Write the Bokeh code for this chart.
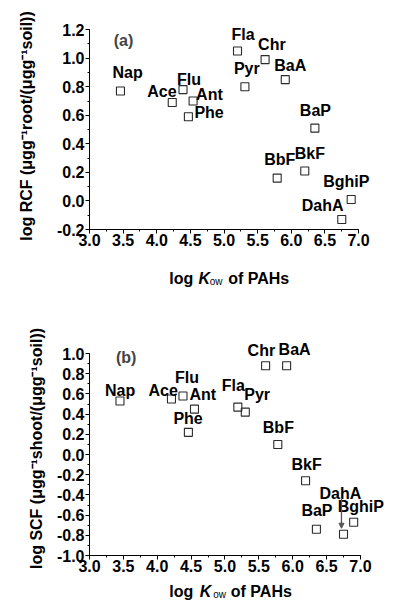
from bokeh.plotting import figure
from bokeh.layouts import column
from bokeh.core.properties import value
from bokeh.models import (ColumnDataSource, LabelSet, Label, Range1d, FixedTicker,
                          PrintfTickFormatter, Arrow, NormalHead)
from bokeh.embed import file_html
from bokeh.resources import INLINE

# ---------------- data ----------------
pahs_a = ["Nap", "Ace", "Flu", "Ant", "Phe", "Fla", "Pyr", "Chr", "BaA",
          "BbF", "BkF", "BaP", "DahA", "BghiP"]
logkow_a = [3.46, 4.23, 4.39, 4.54, 4.47, 5.20, 5.31, 5.61, 5.91,
            5.79, 6.20, 6.35, 6.75, 6.89]
log_rcf = [0.77, 0.69, 0.78, 0.70, 0.59, 1.05, 0.80, 0.99, 0.85,
           0.16, 0.21, 0.51, -0.13, 0.01]

pahs_b = ["Nap", "Ace", "Flu", "Ant", "Phe", "Fla", "Pyr", "Chr", "BaA",
          "BbF", "BkF", "BaP", "DahA", "BghiP"]
logkow_b = [3.45, 4.21, 4.38, 4.55, 4.46, 5.19, 5.30, 5.60, 5.91,
            5.78, 6.19, 6.35, 6.75, 6.90]
log_scf = [0.53, 0.55, 0.58, 0.45, 0.22, 0.47, 0.42, 0.88, 0.88,
           0.10, -0.26, -0.74, -0.79, -0.67]

x_ticks = [3.0, 3.5, 4.0, 4.5, 5.0, 5.5, 6.0, 6.5, 7.0]
y_ticks_a = [-0.2, 0.0, 0.2, 0.4, 0.6, 0.8, 1.0, 1.2]
y_ticks_b = [-1.0, -0.8, -0.6, -0.4, -0.2, 0.0, 0.2, 0.4, 0.6, 0.8, 1.0]

# label offsets in pixels (left/baseline of text relative to the point; negative dy = above)
dx_a = [-8, -25, -6, 3, 6, -6, -11, -7, -11, -13, -10, -15, -40, -28]
dy_a = [-13, -5, -5, -1, 1, -11, -13, -10, -9, -13, -12, -12, -9, -13]
dx_b = [-15, -23, -8, -5, -15, -16, -1, -18, -8, -15, -14, -15, -24, -16]
dy_b = [-5, -3, -13, -9, -8, -16, -12, -10, -11, -11, -11, -13, -35, -10]

FONT = "Liberation Sans"


def style_axes(p, yticks):
    p.xgrid.visible = False
    p.ygrid.visible = False
    p.outline_line_color = None
    p.background_fill_color = "white"
    for ax in (p.xaxis[0], p.yaxis[0]):
        ax.axis_line_color = "black"
        ax.axis_line_width = 1
        ax.major_tick_in = 0
        ax.major_tick_out = 4
        ax.minor_tick_in = 0
        ax.minor_tick_out = 2
        ax.major_tick_line_color = "black"
        ax.minor_tick_line_color = "black"
        ax.major_label_text_font = FONT
        ax.major_label_text_font_style = "bold"
        ax.major_label_text_font_size = "16px"
        ax.major_label_text_color = "black"
        ax.formatter = PrintfTickFormatter(format="%.1f")
    p.xaxis[0].ticker = FixedTicker(ticks=x_ticks,
                                    minor_ticks=[3 + 0.25 * i for i in range(17)])
    p.xaxis[0].bounds = (x_ticks[0], x_ticks[-1])
    lo, hi = yticks[0], yticks[-1]
    n = int(round((hi - lo) / 0.1))
    p.yaxis[0].ticker = FixedTicker(ticks=yticks,
                                    minor_ticks=[lo + 0.1 * i for i in range(n + 1)])
    p.yaxis[0].bounds = (lo, hi)
    p.xaxis[0].major_label_standoff = 0
    p.yaxis[0].major_label_standoff = 1
    p.yaxis[0].axis_label_text_font = FONT
    p.yaxis[0].axis_label_text_font_style = "bold"
    p.yaxis[0].axis_label_text_font_size = "16px"
    p.yaxis[0].axis_label_text_color = "black"


def add_points(p, xs, ys, names, dxs, dys):
    src = ColumnDataSource(dict(x=xs, y=ys, name=names,
                                dx=dxs, dy=[-d for d in dys]))
    p.scatter("x", "y", source=src, marker="square", size=8,
              fill_color=None, line_color="#2a2a2a", line_width=1.1)
    p.add_layout(LabelSet(x="x", y="y", text="name", source=src,
                          x_offset="dx", y_offset="dy",
                          text_font=value(FONT), text_font_style=value("bold"),
                          text_font_size=value("16px"), text_color=value("black"),
                          text_baseline=value("alphabetic"), text_align=value("left")))


def xtitle_fig(height, base, xs, xr, left):
    t = figure(width=385, height=height, output_backend="svg", toolbar_location=None,
               x_range=Range1d(*xr), y_range=Range1d(0, height),
               x_axis_type=None, y_axis_type=None,
               min_border_left=left, min_border_right=0,
               min_border_top=0, min_border_bottom=0)
    t.xgrid.visible = False
    t.ygrid.visible = False
    t.outline_line_color = None
    parts = [("log", "bold", "16px", 0), ("K", "bold italic", "16px", 0),
             ("ow", "normal", "10px", -3), ("of PAHs", "bold", "16px", 0)]
    for (txt, style, size, off), x in zip(parts, xs):
        t.text(x=[x], y=[base + off], text=[txt], text_font=value(FONT),
               text_font_style=value(style), text_font_size=value(size),
               text_color="black", text_baseline="alphabetic", text_align="left")
    return t


# ---------------- figure (a) ----------------
xr1 = (3.0, 7.4)
p1 = figure(width=385, height=255, output_backend="svg", toolbar_location=None,
            x_range=Range1d(*xr1), y_range=Range1d(-0.2, 1.25),
            min_border_left=82, min_border_right=0, min_border_top=22,
            min_border_bottom=26)
style_axes(p1, y_ticks_a)
p1.yaxis[0].axis_label = "log RCF (\u03bcgg\u207b\u00b9root/(\u03bcgg\u207b\u00b9soil))"
p1.yaxis[0].axis_label_standoff = 19
add_points(p1, logkow_a, log_rcf, pahs_a, dx_a, dy_a)
p1.add_layout(Label(x=3.36, y=1.123, text="(a)", text_font=FONT,
                    text_font_style="bold", text_font_size="16px",
                    text_baseline="alphabetic"))
t1 = xtitle_fig(43, 20, [4.186, 4.622, 4.786, 5.062], xr1, 82)

# ---------------- figure (b) ----------------
xr2 = (3.0, 7.37)
p2 = figure(width=385, height=283, output_backend="svg", toolbar_location=None,
            x_range=Range1d(*xr2), y_range=Range1d(-1.0, 1.12),
            min_border_left=89, min_border_right=0, min_border_top=43,
            min_border_bottom=26)
style_axes(p2, y_ticks_b)
p2.yaxis[0].axis_label = "log SCF (\u03bcgg\u207b\u00b9shoot/(\u03bcgg\u207b\u00b9soil))"
p2.yaxis[0].axis_label_standoff = 9
add_points(p2, logkow_b, log_scf, pahs_b, dx_b, dy_b)
p2.add_layout(Label(x=3.39, y=0.96, text="(b)", text_font=FONT,
                    text_font_style="bold", text_font_size="16px",
                    text_baseline="alphabetic"))

i_dah = pahs_b.index("DahA")
p2.add_layout(Arrow(end=NormalHead(size=5, fill_color="#555555", line_color="#555555"),
                    x_start=logkow_b[i_dah] - 0.03, y_start=log_scf[i_dah] + 0.36,
                    x_end=logkow_b[i_dah] - 0.03, y_end=log_scf[i_dah] + 0.06,
                    line_color="#555555", line_width=1.3))
t2 = xtitle_fig(19, 9, [4.177, 4.628, 4.826, 5.086], xr2, 89)

layout = column(p1, t1, p2, t2)
open("out.html", "w").write(file_html(layout, INLINE))
